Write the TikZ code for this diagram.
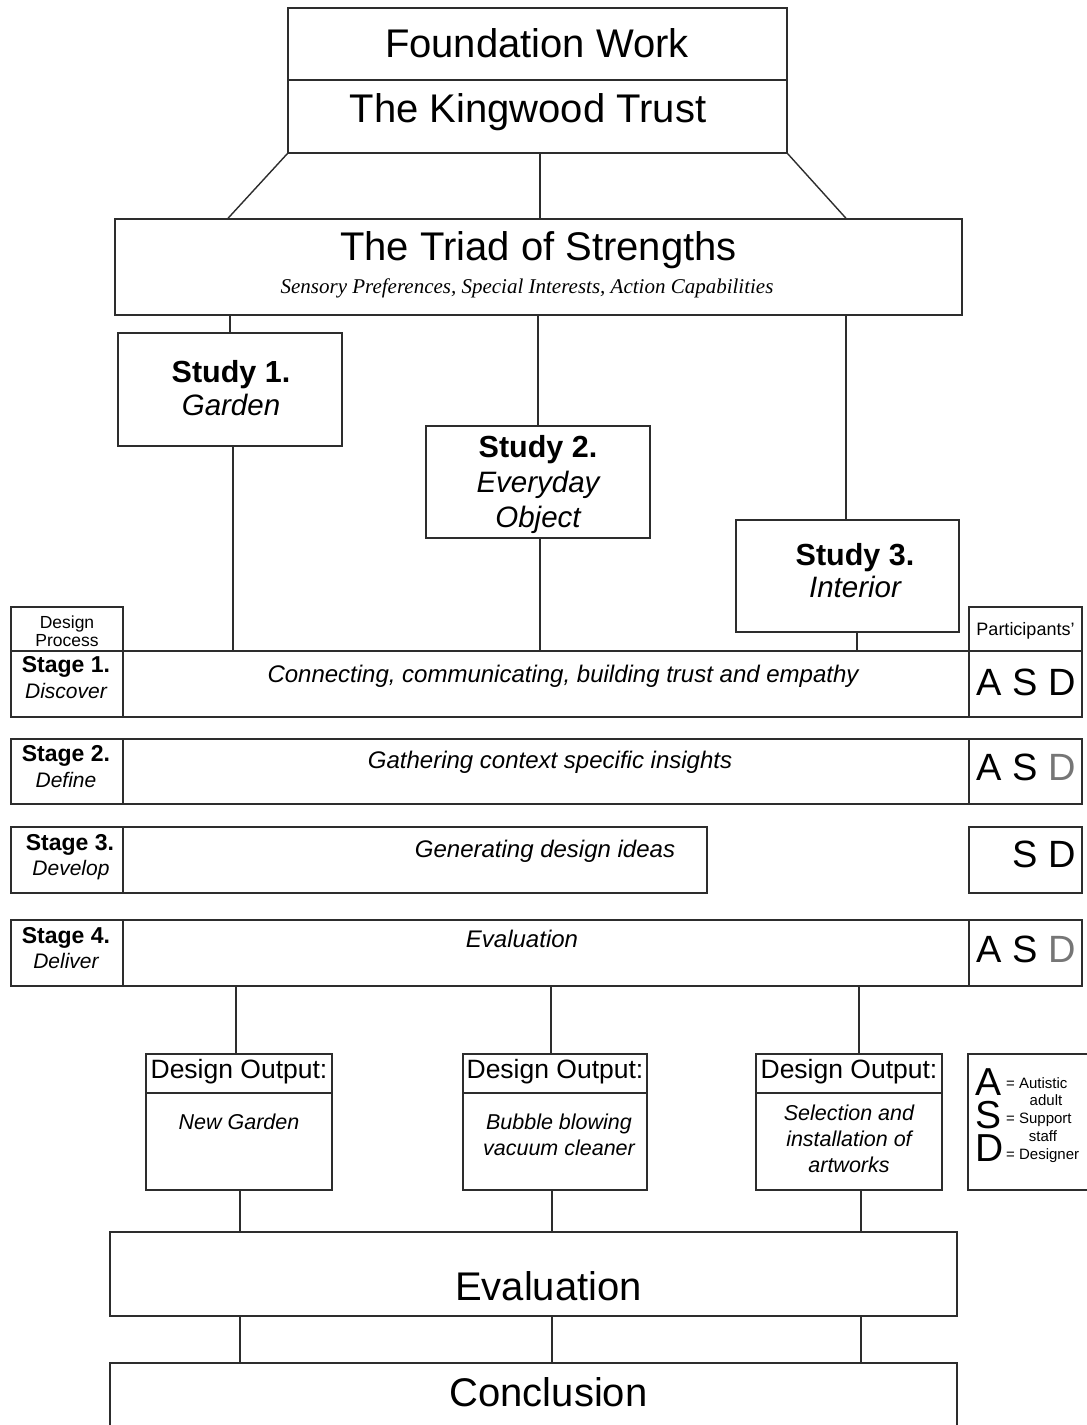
\documentclass[tikz,border=0pt]{standalone}
\usepackage{fontspec}
\setmainfont{Liberation Sans}
\newfontfamily\tnr{Liberation Serif}
\usetikzlibrary{fit}
\definecolor{lightD}{RGB}{118,118,118}
\definecolor{linecol}{RGB}{45,45,45}
\newcommand{\fsz}[1]{\fontsize{#1}{#1}\selectfont}
\tikzset{
  box/.style={draw=linecol, line width=1.4pt, inner sep=0pt},
  ln/.style={draw=linecol, line width=1.4pt},
  txt/.style={anchor=base, inner sep=0pt, align=center},
  big/.style={txt, font=\fsz{40}},
  studyb/.style={txt, font=\fsz{30.5}\bfseries},
  studyi/.style={txt, font=\fsz{29.5}\itshape},
  stageb/.style={txt, font=\fsz{23}\bfseries},
  stagei/.style={txt, font=\fsz{21}\itshape},
  midtxt/.style={txt, font=\fsz{24}\itshape},
  asd/.style={anchor=base east, inner sep=0pt, font=\fsz{38}},
  outhead/.style={txt, font=\fsz{26.5}},
  outbody/.style={txt, font=\fsz{21.5}\itshape},
  small/.style={txt, font=\fsz{17.5}},
  legbig/.style={anchor=west, inner sep=0pt, align=left, font=\fontsize{39}{33}\selectfont},
  legsmall/.style={anchor=base west, inner sep=0pt, font=\fsz{15}, text height=11pt, text depth=0pt},
  legsmallc/.style={txt, font=\fsz{15}, text height=11pt, text depth=0pt},
}
\begin{document}
\begin{tikzpicture}[x=1pt,y=-1pt]
\useasboundingbox (0,0) rectangle (1087,1425);
\clip (0,0) rectangle (1087,1425);
\fill[white] (0,0) rectangle (1087,1425);

% column coordinates
\coordinate (xL) at (228,0);
\coordinate (xM) at (540,0);
\coordinate (xR) at (846,0);
\coordinate (xs1a) at (230,0);
\coordinate (xs2a) at (538,0);
\coordinate (xs3a) at (846,0);
\coordinate (xs1b) at (233,0);
\coordinate (xs2b) at (540,0);
\coordinate (xs3b) at (857,0);
\coordinate (xo1) at (236,0);
\coordinate (xo2) at (551,0);
\coordinate (xo3) at (859,0);
\coordinate (xe1) at (240,0);
\coordinate (xe2) at (552,0);
\coordinate (xe3) at (861,0);

% top boxes
\node[box, fit={(288,8)(787,80)}] (fw) {};
\node[box, fit={(288,80)(787,153)}] (kt) {};
\node[big] (fwt) at (537,57) {Foundation Work};
\node[big] (ktt) at (528,122) {The Kingwood Trust};

% triad
\node[box, fit={(115,219)(962,315)}] (triad) {};
\node[big] (triadt) at (538.5,260) {The Triad of Strengths};
\node[txt, font=\tnr\fsz{21}\itshape] (triads) at (527,293) {Sensory Preferences, Special Interests, Action Capabilities};

\draw[ln] (kt.south west) -- (triad.north -| xL);
\draw[ln] (kt.south -| xM) -- (triad.north -| xM);
\draw[ln] (kt.south east) -- (triad.north -| xR);

% studies
\node[box, fit={(118,333)(342,446)}] (s1) {};
\node[studyb] (s1a) at (231,382) {Study 1.};
\node[studyi] (s1b) at (231,415) {Garden};
\node[box, fit={(426,426)(650,538)}] (s2) {};
\node[studyb] (s2a) at (538,457) {Study 2.};
\node[studyi] (s2b) at (538,492) {Everyday};
\node[studyi] (s2c) at (538,527) {Object};
\node[box, fit={(736,520)(959,632)}] (s3) {};
\node[studyb] (s3a) at (855,565) {Study 3.};
\node[studyi] (s3b) at (855,597) {Interior};

\draw[ln] (triad.south -| xs1a) -- (s1.north -| xs1a);
\draw[ln] (triad.south -| xs2a) -- (s2.north -| xs2a);
\draw[ln] (triad.south -| xs3a) -- (s3.north -| xs3a);

% headers
\node[box, fit={(11,607)(123,651)}] (dp) {};
\node[small] (dpa) at (67,628) {Design};
\node[small] (dpb) at (67,646) {Process};
\node[box, fit={(969,607)(1082,651)}] (pp) {};
\node[txt, font=\fsz{18}] (ppt) at (1025.5,635) {Participants'};

% rows
\node[box, fit={(11,651)(123,717)}] (r1l) {};
\node[box, fit={(123,651)(969,717)}] (r1m) {};
\node[box, fit={(969,651)(1082,717)}] (r1r) {};
\node[stageb] (r1a) at (66,672) {Stage 1.};
\node[stagei] (r1b) at (66,698) {Discover};
\node[midtxt] (r1t) at (563,682) {Connecting, communicating, building trust and empathy};
\node[asd] (r1p) at (1076,695) {A S D};

\node[box, fit={(11,739)(123,804)}] (r2l) {};
\node[box, fit={(123,739)(969,804)}] (r2m) {};
\node[box, fit={(969,739)(1082,804)}] (r2r) {};
\node[stageb] (r2a) at (66,761) {Stage 2.};
\node[stagei] (r2b) at (66,787) {Define};
\node[midtxt] (r2t) at (550,768) {Gathering context specific insights};
\node[asd] (r2p) at (1076,780) {A S \textcolor{lightD}{D}};

\node[box, fit={(11,827)(123,893)}] (r3l) {};
\node[box, fit={(123,827)(707,893)}] (r3m) {};
\node[box, fit={(969,827)(1082,893)}] (r3r) {};
\node[stageb] (r3a) at (70,850) {Stage 3.};
\node[stagei] (r3b) at (71,875) {Develop};
\node[midtxt] (r3t) at (545,857) {Generating design ideas};
\node[asd] (r3p) at (1076,867) {S D};

\node[box, fit={(11,920)(123,986)}] (r4l) {};
\node[box, fit={(123,920)(969,986)}] (r4m) {};
\node[box, fit={(969,920)(1082,986)}] (r4r) {};
\node[stageb] (r4a) at (66,943) {Stage 4.};
\node[stagei] (r4b) at (66,968) {Deliver};
\node[midtxt] (r4t) at (522,947) {Evaluation};
\node[asd] (r4p) at (1076,962) {A S \textcolor{lightD}{D}};

\draw[ln] (s1.south -| xs1b) -- (r1m.north -| xs1b);
\draw[ln] (s2.south -| xs2b) -- (r1m.north -| xs2b);
\draw[ln] (s3.south -| xs3b) -- (r1m.north -| xs3b);

% outputs
\node[box, fit={(146,1054)(332,1093)}] (o1h) {};
\node[box, fit={(146,1093)(332,1190)}] (o1) {};
\node[outhead] (o1ht) at (239,1078) {Design Output:};
\node[outbody] (o1t) at (239,1129) {New Garden};

\node[box, fit={(463,1054)(647,1093)}] (o2h) {};
\node[box, fit={(463,1093)(647,1190)}] (o2) {};
\node[outhead] (o2ht) at (555,1078) {Design Output:};
\node[outbody] (o2t) at (559,1129) {Bubble blowing};
\node[outbody] (o2u) at (559,1155) {vacuum cleaner};

\node[box, fit={(756,1054)(942,1093)}] (o3h) {};
\node[box, fit={(756,1093)(942,1190)}] (o3) {};
\node[outhead] (o3ht) at (849,1078) {Design Output:};
\node[outbody] (o3t) at (849,1120) {Selection and};
\node[outbody] (o3u) at (849,1146) {installation of};
\node[outbody] (o3v) at (849,1172) {artworks};

\draw[ln] (r4m.south -| xo1) -- (o1h.north -| xo1);
\draw[ln] (r4m.south -| xo2) -- (o2h.north -| xo2);
\draw[ln] (r4m.south -| xo3) -- (o3h.north -| xo3);

% legend
\node[box, fit={(968,1054)(1092,1190)}] (leg) {};
\node[legbig] (lasd) at (975,1115) {A\\S\\D};
\node[legsmall] (lat) at (1006,1088) {= Autistic};
\node[legsmallc] (lau) at (1046,1105) {adult};
\node[legsmall] (lst) at (1006,1123) {= Support};
\node[legsmallc] (lsu) at (1043,1141) {staff};
\node[legsmall] (ldt) at (1006,1159) {= Designer};

% evaluation & conclusion
\node[box, fit={(110,1232)(957,1316)}] (ev) {};
\node[big] (evt) at (548.5,1300) {Evaluation};
\node[box, fit={(110,1363)(957,1445)}] (co) {};
\node[big] (cot) at (548.5,1406) {Conclusion};

\draw[ln] (o1.south -| xe1) -- (ev.north -| xe1);
\draw[ln] (o2.south -| xe2) -- (ev.north -| xe2);
\draw[ln] (o3.south -| xe3) -- (ev.north -| xe3);
\draw[ln] (ev.south -| xe1) -- (co.north -| xe1);
\draw[ln] (ev.south -| xe2) -- (co.north -| xe2);
\draw[ln] (ev.south -| xe3) -- (co.north -| xe3);
\end{tikzpicture}
\end{document}
